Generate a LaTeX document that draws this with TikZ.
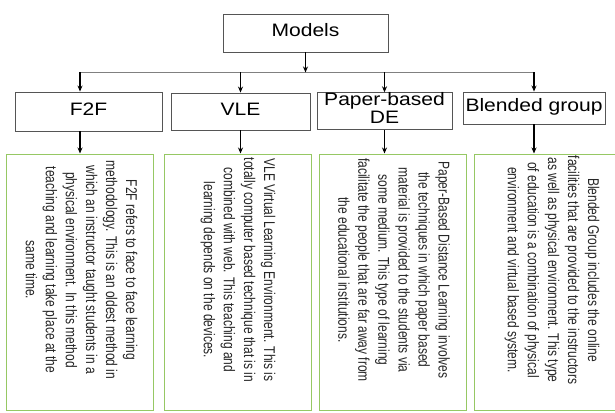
\documentclass[tikz,border=0pt]{standalone}
\usepackage{fontspec}
\setmainfont{Liberation Sans}
\usepackage{graphicx}
\usetikzlibrary{arrows.meta}
\definecolor{boxgreen}{RGB}{150,200,100}
\definecolor{boxgray}{RGB}{85,85,85}
\newcommand{\hdrtext}[1]{\scalebox{1.17}[1]{\begin{tabular}{@{}c@{}}#1\end{tabular}}}
\newcommand{\desctext}[1]{\scalebox{1}[1.3]{\begin{tabular}{@{}c@{}}#1\end{tabular}}}

\begin{document}
\begin{tikzpicture}[x=1pt,y=-1pt,
  hdr/.style={draw=boxgray, line width=0.9pt, inner sep=0pt, font=\fontsize{18}{18}\selectfont},
  descbox/.style={draw=boxgreen, line width=1pt, minimum width=147pt, minimum height=256pt, inner sep=0pt},
  desc/.style={rotate=-90, inner sep=0pt, font=\fontsize{12}{15.4}\selectfont, text=black!85},
  arr/.style={line width=1.1pt, -{Stealth[length=6pt,width=5pt]}}]
\useasboundingbox (0,0) rectangle (615,412);
\clip (0,0) rectangle (615,412);

% top level
\node[hdr, minimum width=165pt, minimum height=38pt] (models) at (305.5,33) {\hdrtext{Models}};
\node[hdr, minimum width=147pt, minimum height=39pt] (f2f) at (88.5,111.5) {\hdrtext{F2F}};
\node[hdr, minimum width=139pt, minimum height=37pt] (vle) at (240.5,111.5) {\hdrtext{VLE}};
\node[hdr, minimum width=135pt, minimum height=36pt] (paper) at (384.5,111) {\hdrtext{Paper-based\\DE}};
\node[hdr, minimum width=142pt, minimum height=32pt] (blended) at (534,108) {\hdrtext{Blended group}};

% description boxes
\node[descbox] (g1) at (80,282) {};
\node[descbox] (g2) at (238,282) {};
\node[descbox] (g3) at (392.5,282) {};
\node[descbox, minimum width=156pt] (g4) at (552,282) {};

\node[desc] (t1) at ([yshift=12pt]g1.center) {\desctext{F2F refers to face to face learning\\
  methodology. This is an oldest method in\\
  which an instructor taught students in a\\
  physical environment. In this method\\
  teaching and learning take place at the\\
  same time.}};
\node[desc] (t2) at ([yshift=12pt]g2.center) {\desctext{VLE Virtual Learning Environment. This is\\
  totally computer based technique that is in\\
  combined with web. This teaching and\\
  learning depends on the devices.}};
\node[desc] (t3) at ([yshift=12pt]g3.center) {\desctext{Paper-Based Distance Learning involves\\
  the techniques in which paper based\\
  material is provided to the students via\\
  some medium. This type of learning\\
  facilitate the people that are far away from\\
  the educational institutions.}};
\node[desc] (t4) at ([yshift=12pt]g4.center) {\desctext{Blended Group includes the online\\
  facilities that are provided to the instructors\\
  as well as physical environment. This type\\
  of education is a combination of physical\\
  environment and virtual based system.}};

% connectors
\coordinate (bar) at ([yshift=-20pt]models.south);
\coordinate (f2ftop) at ([xshift=-8.5pt]f2f.north);
\draw[gray, line width=0.8pt] (f2ftop |- bar) -- (blended.north |- bar);
\draw[arr] (models) -- (bar);
\draw[arr] (f2ftop |- bar) -- (f2ftop);
\foreach \n in {vle,paper,blended}
  \draw[arr] (\n.north |- bar) -- (\n);
\draw[arr] (f2f.south -| g1.north) -- (g1.north);
\draw[arr] (vle) -- (vle.south |- g2.north);
\draw[arr] (paper) -- (paper.south |- g3.north);
\draw[arr] (blended) -- (blended.south |- g4.north);
\end{tikzpicture}
\end{document}
